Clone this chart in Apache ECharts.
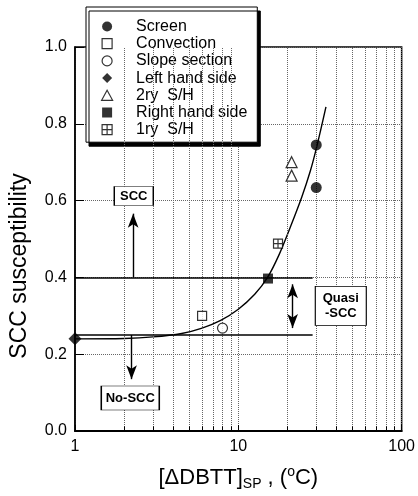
<!DOCTYPE html>
<html><head><meta charset="utf-8">
<script src="https://cdn.jsdelivr.net/npm/echarts@6/dist/echarts.min.js"></script>
<style>html,body{margin:0;padding:0;background:#fff}#c{width:418px;height:496px}</style>
</head><body><div id="c"></div>
<script>
// ---- data ----
const screenX = [30, 30],   screenY = [0.745, 0.634];
const convX = [6],          convY = [0.30];
const slopeX = [8],         slopeY = [0.268];
const leftX = [1],          leftY = [0.24];
const sec2X = [21.2, 21.2], sec2Y = [0.70, 0.665];
const rightX = [15.2],      rightY = [0.397];
const pri1X = [17.5],       pri1Y = [0.488];

const curveX = [1, 2, 3, 4.5, 6, 7.8, 10, 12.6, 15.1, 17.8, 21, 24.5, 27.5, 30.2, 34.4];
const curveY = [0.24, 0.241, 0.245, 0.254, 0.268, 0.288, 0.317, 0.356, 0.40, 0.46, 0.535, 0.61, 0.675, 0.74, 0.844];

const boundLevels = [0.4, 0.25];
const boundXStart = 1, boundXEnd = 28.5;

const minorGridX = [2,3,4,5,6,7,8,9,20,30,40,50,60,70,80,90];

const annotText = ['SCC', 'No-SCC', 'Quasi\n-SCC'];
const annotX = [2.29, 2.18, 42.4];
const annotY = [0.612, 0.086, 0.326];

const arrowX = [2.27, 2.22, 21.5];
const arrowFromY = [0.40, 0.25, 0.382];
const arrowToY = [0.566, 0.135, 0.268];

const xTicks = [1, 10, 100];
const yTicks = [0, 0.2, 0.4, 0.6, 0.8, 1.0];

const legendNames = ['Screen', 'Convection', 'Slope section', 'Left hand side', '2ry  S/H', 'Right hand side', '1ry  S/H'];

// ---- helpers ----
const zip = (a, b) => a.map((v, i) => [v, b[i]]);
const FONT = '"Liberation Sans", Arial, Helvetica, sans-serif';
const plusSquare = 'path://M0,0L10,0L10,10L0,10Z M5,0L5,10 M0,5L10,5';
const squarePath = 'path://M0,0L10,0L10,10L0,10Z';
const diamondPath = 'path://M5,0L10,5L5,10L0,5Z';
const trianglePath = 'path://M5,0L10.5,10L-0.5,10Z';
const openStyle = {color: '#fff', borderColor: '#000', borderWidth: 1.2};
const solidStyle = {color: '#000', borderWidth: 0};

const chart = echarts.init(document.getElementById('c'), null, {renderer: 'canvas'});

const minorGridLines = minorGridX.map(x => ({xAxis: x}));
const minorTicks = minorGridX.map(x => [{coord: [x, 0]}, {coord: [x, 0.012]}]);
const boundLines = boundLevels.map(y => [{coord: [boundXStart, y]}, {coord: [boundXEnd, y]}]);
const arrowLines = arrowX.map((x, i) => [
  {coord: [x, arrowFromY[i]], symbol: i === 2 ? 'arrow' : 'none', symbolSize: [8, 14]},
  {coord: [x, arrowToY[i]], symbol: 'arrow', symbolSize: [8, 14]}
]);
const boxSizes = [[39, 19], [58, 24], [51, 39]];
const annotPoints = annotText.map((t, i) => ({
  coord: [annotX[i], annotY[i]],
  symbol: 'rect',
  symbolSize: boxSizes[i],
  label: {formatter: t}
}));

chart.setOption({
  animation: false,
  textStyle: {fontFamily: FONT},
  grid: {left: 73, right: 15, top: 47, bottom: 63, show: true, borderColor: '#000', borderWidth: 1.5, backgroundColor: 'transparent'},
  legend: {
    orient: 'vertical',
    left: 86, top: 7,
    padding: [11, 10, 4, 15],
    itemWidth: 48, itemHeight: 10, itemGap: 0.2,
    backgroundColor: '#fff',
    borderColor: '#000', borderWidth: 1,
    shadowColor: '#000', shadowBlur: 0, shadowOffsetX: 3, shadowOffsetY: 4,
    selectedMode: false,
    symbolKeepAspect: true,
    textStyle: {fontSize: 16, color: '#000', fontFamily: FONT, lineHeight: 17},
    data: [
      {name: legendNames[0], icon: 'circle', itemStyle: solidStyle},
      {name: legendNames[1], icon: squarePath, itemStyle: openStyle},
      {name: legendNames[2], icon: 'circle', itemStyle: openStyle},
      {name: legendNames[3], icon: diamondPath, itemStyle: solidStyle},
      {name: legendNames[4], icon: trianglePath, itemStyle: openStyle},
      {name: legendNames[5], icon: squarePath, itemStyle: solidStyle},
      {name: legendNames[6], icon: plusSquare, itemStyle: openStyle}
    ]
  },
  xAxis: {
    type: 'log', logBase: 10, min: 1, max: 100,
    name: '[ΔDBTT]{sub|SP} , ({sup|o}C)',
    nameLocation: 'middle', nameGap: 34,
    nameTextStyle: {fontSize: 22, color: '#000', fontFamily: FONT,
      rich: {sub: {fontSize: 14, verticalAlign: 'bottom', padding: [12, 0, 0, 0], fontFamily: FONT},
             sup: {fontSize: 14, verticalAlign: 'top', padding: [0, 0, 8, 0], fontFamily: FONT}}},
    axisLine: {show: true, onZero: false, lineStyle: {color: '#000', width: 2}},
    axisTick: {show: true, inside: true, length: 6, lineStyle: {color: '#000', width: 1}},
    axisLabel: {fontSize: 16, color: '#000', margin: 8, fontFamily: FONT,
      formatter: v => xTicks.includes(Math.round(v)) ? String(Math.round(v)) : ''},
    splitLine: {show: true, lineStyle: {color: '#666', type: 'dotted', width: 1}}
  },
  yAxis: {
    type: 'value', min: 0, max: 1, interval: 0.2,
    name: 'SCC susceptibility',
    nameLocation: 'middle', nameGap: 44,
    nameTextStyle: {fontSize: 23, color: '#000', fontFamily: FONT, padding: [0, 54, 0, 0]},
    axisLine: {show: true, lineStyle: {color: '#000', width: 1.5}},
    axisTick: {show: true, inside: true, length: 9, lineStyle: {color: '#000', width: 1}},
    axisLabel: {fontSize: 16, color: '#000', margin: 8, fontFamily: FONT,
      formatter: v => yTicks.some(t => Math.abs(t - v) < 1e-9) ? v.toFixed(1) : ''},
    splitLine: {show: true, lineStyle: {color: '#666', type: 'dotted', width: 1}}
  },
  series: [
    {
      name: 'grid-extra', type: 'line', data: [], silent: true,
      markLine: {
        silent: true, symbol: 'none', animation: false,
        label: {show: false},
        lineStyle: {color: '#666', type: 'dotted', width: 1},
        data: minorGridLines
      }
    },
    {
      name: 'ticks-extra', type: 'line', data: [], silent: true,
      markLine: {
        silent: true, symbol: 'none', animation: false,
        label: {show: false},
        lineStyle: {color: '#000', type: 'solid', width: 1},
        data: minorTicks
      }
    },
    {
      name: 'bounds', type: 'line', data: [], silent: true, z: 3,
      markLine: {
        silent: true, symbol: 'none', animation: false,
        label: {show: false},
        lineStyle: {color: '#000', type: 'solid', width: 1.6},
        data: boundLines
      }
    },
    {
      name: 'curve', type: 'line', data: zip(curveX, curveY), smooth: 0.3,
      showSymbol: false, silent: true, z: 4,
      lineStyle: {color: '#000', width: 1.4}
    },
    {
      name: 'arrows', type: 'line', data: [], silent: true, z: 4,
      markLine: {
        silent: true, animation: false,
        symbol: ['none', 'arrow'], symbolSize: [8, 14],
        label: {show: false},
        lineStyle: {color: '#000', type: 'solid', width: 1.4},
        itemStyle: {color: '#000'},
        data: arrowLines
      }
    },
    {
      name: 'boxes', type: 'line', data: [], silent: true, z: 6,
      markPoint: {
        silent: true, animation: false,
        itemStyle: {color: '#fff', borderColor: '#000', borderWidth: 1},
        label: {show: true, position: 'inside', color: '#000', fontSize: 13, fontWeight: 'bold', lineHeight: 15, fontFamily: FONT},
        data: annotPoints
      }
    },
    {name: legendNames[0], type: 'scatter', data: zip(screenX, screenY), symbol: 'circle', symbolSize: 11, itemStyle: solidStyle, z: 5},
    {name: legendNames[1], type: 'scatter', data: zip(convX, convY), symbol: 'rect', symbolSize: 9, itemStyle: openStyle, z: 5},
    {name: legendNames[2], type: 'scatter', data: zip(slopeX, slopeY), symbol: 'circle', symbolSize: 10, itemStyle: openStyle, z: 5},
    {name: legendNames[3], type: 'scatter', data: zip(leftX, leftY), symbol: 'diamond', symbolSize: 13, itemStyle: solidStyle, z: 5},
    {name: legendNames[4], type: 'scatter', data: zip(sec2X, sec2Y), symbol: 'triangle', symbolSize: 11, itemStyle: openStyle, z: 5},
    {name: legendNames[5], type: 'scatter', data: zip(rightX, rightY), symbol: 'rect', symbolSize: 10, itemStyle: solidStyle, z: 5},
    {name: legendNames[6], type: 'scatter', data: zip(pri1X, pri1Y), symbol: plusSquare, symbolSize: 9, itemStyle: openStyle, z: 5}
  ]
});
</script>
</body></html>
